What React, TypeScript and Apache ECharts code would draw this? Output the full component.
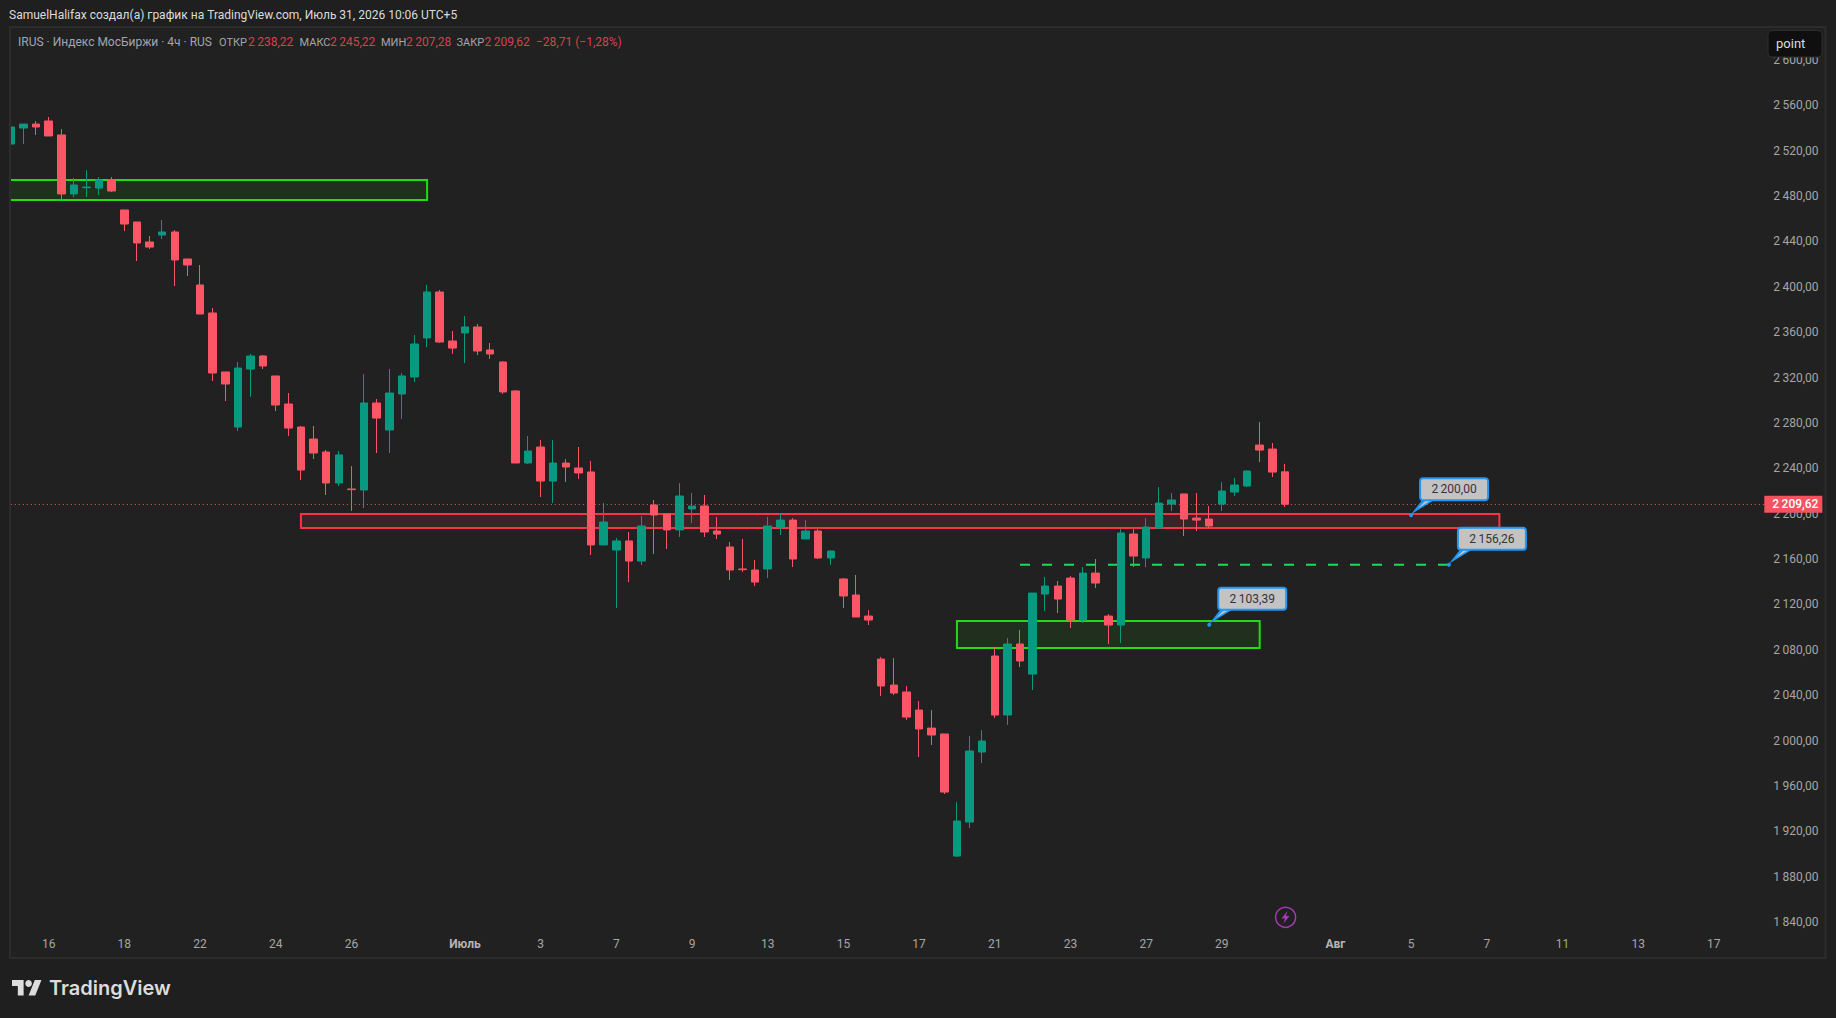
import React, { useEffect, useRef } from "react";
import * as echarts from "echarts";

const opens = [
  2527.1,2541.2,2544.7,2547.4,2535.1,2483.1,2488.6,2488.3,2495.7,2469.0,
  2458.4,2440.8,2446.9,2449.6,2425.8,2402.9,2378.2,2326.2,2277.7,2328.8,
  2340.3,2322.7,2298.0,2277.7,2267.1,2255.7,2228.4,2223.1,2222.2,2298.9,
  2275.1,2306.8,2321.8,2356.2,2396.7,2353.5,2360.6,2365.9,2345.6,2335.0,
  2309.5,2246.0,2260.1,2230.1,2246.0,2241.6,2238.1,2173.8,2169.3,2177.3,
  2159.6,2209.0,2201.1,2187.0,2205.5,2208.1,2186.1,2172.0,2152.6,2151.7,
  2152.6,2189.6,2195.7,2179.0,2186.1,2162.3,2143.8,2129.7,2111.1,2073.2,
  2050.3,2044.2,2028.3,2012.4,2007.2,1899.6,1929.6,1991.3,2075.9,2023.9,
  2086.5,2060.0,2130.5,2137.6,2144.6,2107.6,2149.0,2111.1,2103.2,2183.4,
  2162.3,2188.7,2209.8,2218.7,2197.5,2196.6,2209.8,2220.4,2225.7,2261.8,
  2258.3,2238.22,
];
const closes = [
  2542.1,2544.7,2542.1,2534.2,2483.1,2491.0,2489.2,2495.4,2485.7,2456.6,
  2439.9,2436.3,2449.6,2424.9,2420.5,2377.3,2325.3,2315.6,2329.7,2340.3,
  2331.5,2297.1,2276.8,2239.8,2254.8,2228.4,2253.1,2222.5,2298.9,2285.6,
  2307.7,2322.7,2350.9,2396.7,2352.6,2347.3,2365.9,2344.7,2342.1,2308.6,
  2246.0,2256.6,2230.1,2246.0,2242.5,2237.2,2173.8,2194.0,2177.3,2159.6,
  2190.5,2200.2,2187.0,2216.9,2208.1,2185.2,2183.4,2151.7,2152.0,2141.1,
  2190.5,2195.7,2161.4,2186.1,2162.3,2168.4,2128.8,2110.3,2107.6,2049.5,
  2043.3,2022.1,2011.6,2006.3,1956.0,1930.5,1992.2,2001.0,2023.9,2086.5,
  2071.5,2131.4,2137.6,2126.1,2107.6,2149.0,2140.2,2103.2,2184.3,2164.0,
  2189.6,2210.7,2213.4,2196.6,2195.7,2190.5,2221.3,2226.6,2238.9,2257.4,
  2238.0,2209.62,
];
const highs = [
  2549.2,2544.7,2547.4,2550.9,2540.3,2497.2,2504.2,2498.0,2498.0,2469.0,
  2458.4,2446.0,2460.1,2451.3,2425.8,2420.5,2382.6,2326.2,2335.0,2342.1,
  2341.2,2322.7,2307.7,2278.6,2278.6,2257.5,2256.6,2243.3,2324.4,2302.4,
  2328.8,2325.3,2358.8,2402.9,2398.4,2362.3,2375.6,2368.5,2351.8,2335.9,
  2310.3,2269.8,2266.3,2266.3,2249.5,2260.1,2247.8,2210.8,2179.9,2185.2,
  2199.3,2213.4,2201.1,2228.4,2219.6,2217.8,2198.4,2176.4,2179.0,2160.5,
  2198.4,2201.9,2197.5,2195.7,2187.8,2169.3,2144.6,2147.3,2116.4,2075.0,
  2074.1,2049.5,2036.2,2028.3,2007.2,1947.2,2005.4,2010.7,2083.8,2091.8,
  2098.8,2131.4,2145.5,2142.0,2146.4,2154.3,2161.4,2112.9,2187.8,2187.8,
  2197.5,2224.8,2219.5,2218.7,2219.5,2208.1,2229.2,2232.8,2239.8,2282.1,
  2263.6,2245.22,
];
const lows = [
  2527.1,2527.1,2535.1,2534.2,2476.9,2480.4,2480.4,2482.2,2484.8,2450.4,
  2424.0,2434.6,2443.4,2402.0,2410.8,2377.3,2318.3,2300.6,2274.2,2304.2,
  2328.8,2291.8,2269.8,2231.0,2249.5,2217.8,2225.7,2203.7,2206.3,2254.8,
  2254.8,2284.8,2317.4,2348.2,2351.7,2342.1,2334.1,2341.2,2337.7,2306.8,
  2246.0,2245.1,2216.0,2210.8,2229.3,2231.9,2164.9,2173.8,2118.2,2141.1,
  2156.1,2165.8,2170.2,2180.8,2193.1,2180.8,2179.0,2142.9,2150.0,2137.6,
  2144.6,2182.5,2154.3,2179.0,2161.4,2156.1,2118.2,2110.3,2103.2,2040.6,
  2041.5,2019.5,1986.9,1997.5,1954.3,1898.8,1924.3,1981.6,2021.3,2015.1,
  2066.2,2045.9,2115.6,2113.8,2100.6,2105.0,2135.8,2086.5,2087.3,2154.3,
  2154.3,2187.8,2203.7,2181.6,2186.0,2188.7,2203.7,2216.9,2224.8,2246.9,
  2233.6,2207.28,
];

const xTickSlots = [3, 9, 15, 21, 27, 36, 42, 48, 54, 60, 66, 72, 78, 84, 90, 96, 105, 111, 117, 123, 129, 135];
const xTickLabels = ["16", "18", "22", "24", "26", "Июль", "3", "7", "9", "13", "15", "17", "21", "23", "27", "29", "Авг", "5", "7", "11", "13", "17"];
const monthLabels = ["Июль", "Авг"];
const slotCount = 140;

// price zones: start bar, end bar, top price, bottom price, colour slot
const zoneStart = [-1, 23, 75];
const zoneEnd = [33, 118, 99];
const zoneTop = [2495.4, 2201.1, 2106.7];
const zoneBottom = [2477.8, 2188.7, 2083.0];
const zoneKind = [0, 1, 0];

const targetLine = { from: 80, to: 114, price: 2156.26 };
const calloutBars = [111, 114, 95];
const calloutPrices = [2200.0, 2156.26, 2103.39];

const lastClose = 2209.62;

const headerText = "SamuelHalifax создал(а) график на TradingView.com, Июль 31, 2026 10:06 UTC+5";
const legendTexts = ["IRUS · Индекс МосБиржи · 4ч · RUS", "ОТКР", "2\u2009238,22", "МАКС", "2\u2009245,22", "МИН", "2\u2009207,28", "ЗАКР", "2\u2009209,62", "−28,71 (−1,28%)"];
const legendLefts = [18, 219, 248, 299.5, 330, 381, 406, 456.5, 484.5, 536];

const FONT = "Roboto, sans-serif";
const RED = "#fb5566";
const GREEN = "#089981";
const LABEL = "#a6a6a6";
const OUTER = "#1f1f1f";
const BORDER = "#2c2c2c";

function fmt(v: number) {
  const s = v.toFixed(2).replace(".", ",");
  const [a, b] = s.split(",");
  return (a.length > 3 ? a.slice(0, -3) + "\u2009" + a.slice(-3) : a) + "," + b;
}

function renderZone(params: any, api: any) {
  const p0 = api.coord([api.value(0), api.value(2)]);
  const p1 = api.coord([api.value(1), api.value(3)]);
  const green = zoneKind[params.dataIndex] === 0;
  return {
    type: "rect",
    shape: { x: p0[0], y: p0[1], width: p1[0] - p0[0], height: p1[1] - p0[1] },
    style: {
      fill: green ? "rgba(34,221,17,0.08)" : "rgba(242,54,69,0.12)",
      stroke: green ? "#20dc10" : "#f23645",
      lineWidth: 2,
    },
  };
}

function renderTarget(_params: any, api: any) {
  const p0 = api.coord([api.value(0), api.value(2)]);
  const p1 = api.coord([api.value(1), api.value(2)]);
  return {
    type: "line",
    shape: { x1: p0[0], y1: p0[1], x2: p1[0], y2: p1[1] },
    style: { stroke: "#16dd5c", lineWidth: 2, lineDash: [10, 12], fill: "none" },
  };
}

function renderCallout(_params: any, api: any) {
  const p = api.coord([api.value(0), api.value(1)]);
  const ax = p[0];
  const ay = p[1];
  const bx = ax + 9;
  const by = ay - 37;
  const blue = "#2196f3";
  return {
    type: "group",
    children: [
      { type: "polygon", shape: { points: [[ax, ay - 1], [bx + 2, by + 22], [bx + 14, by + 22]] }, style: { fill: blue } },
      { type: "polygon", shape: { points: [[ax + 7, ay - 7], [bx + 6, by + 22], [bx + 11, by + 22]] }, style: { fill: "#c3c3c3" } },
      { type: "rect", shape: { x: bx, y: by, width: 68, height: 22, r: 3 }, style: { fill: "#c3c3c3", stroke: blue, lineWidth: 2 } },
      { type: "circle", shape: { cx: ax, cy: ay, r: 2 }, style: { fill: blue } },
      { type: "text", style: { text: fmt(api.value(1)), x: bx + 34, y: by + 11, fill: "#33333d", font: `12px ${FONT}`, textAlign: "center", textVerticalAlign: "middle" } },
    ],
  };
}

export default function App() {
  const ref = useRef<HTMLDivElement>(null);

  useEffect(() => {
    document.body.style.margin = "0";
    document.body.style.background = OUTER;
    const chart = echarts.init(ref.current!, null, { renderer: "svg" });
    const categories = Array.from({ length: slotCount }, (_, i) => {
      const k = xTickSlots.indexOf(i);
      return k >= 0 ? xTickLabels[k] : "";
    });
    const isName = (i: number) => i === 0 || i === 1 || i === 3 || i === 5 || i === 7;

    chart.setOption({
      animation: false,
      backgroundColor: OUTER,
      grid: { left: 10.8, width: 1753.5, top: 15.92, height: 953.17, containLabel: false },
      xAxis: {
        type: "category",
        data: categories,
        boundaryGap: false,
        min: 0,
        max: slotCount - 1,
        axisLine: { show: false },
        axisTick: { show: false },
        splitLine: { show: false },
        axisLabel: {
          inside: true,
          margin: 19,
          color: LABEL,
          fontFamily: FONT,
          fontSize: 12,
          interval: (_i: number, v: string) => v !== "",
          formatter: (v: string) => (monthLabels.includes(v) ? `{m|${v}}` : v),
          rich: { m: { color: "#b5b5b5", fontFamily: FONT, fontSize: 12, fontWeight: 700 } },
        },
      },
      yAxis: {
        type: "value",
        position: "right",
        min: 1800,
        max: 2640,
        interval: 40,
        axisLine: { show: false },
        axisTick: { show: false },
        splitLine: { show: false },
        axisLabel: {
          margin: 9,
          showMinLabel: false,
          showMaxLabel: false,
          formatter: (v: number) => `{p|${fmt(v)}}`,
          rich: { p: { color: LABEL, fontFamily: FONT, fontSize: 12, padding: [0, 0, 3, 0] } },
        },
      },
      series: [
        {
          type: "custom",
          z: 1,
          clip: true,
          renderItem: renderZone,
          data: zoneStart.map((s, i) => [s, zoneEnd[i], zoneTop[i], zoneBottom[i]]),
          encode: { x: [0, 1], y: [2, 3] },
          silent: true,
        },
        {
          type: "custom",
          z: 1,
          renderItem: renderTarget,
          data: [[targetLine.from, targetLine.to, targetLine.price]],
          encode: { x: [0, 1], y: 2 },
          silent: true,
        },
        {
          type: "candlestick",
          z: 3,
          barWidth: 8,
          clip: true,
          data: opens.map((o, i) => [o, closes[i], lows[i], highs[i]]),
          itemStyle: { color: GREEN, color0: RED, borderColor: GREEN, borderColor0: RED, borderWidth: 1 },
          markLine: {
            silent: true,
            symbol: "none",
            animation: false,
            lineStyle: { color: "#f7525f", type: [1, 3], width: 1 },
            label: {
              show: true,
              position: "end",
              distance: 0,
              formatter: () => fmt(lastClose),
              color: "#ffffff",
              fontFamily: FONT,
              fontSize: 12,
              fontWeight: 500,
              backgroundColor: "#f7525f",
              padding: [3, 4, 2, 8],
            },
            data: [{ yAxis: lastClose }],
          },
        },
        {
          type: "custom",
          z: 5,
          renderItem: renderCallout,
          data: calloutBars.map((b, i) => [b, calloutPrices[i]]),
          encode: { x: 0, y: 1 },
          silent: true,
        },
      ],
      graphic: [
        { type: "rect", z: -10, silent: true, shape: { x: 10, y: 27, width: 1815.5, height: 931 }, style: { fill: "#212121", stroke: BORDER, lineWidth: 2 } },
        { type: "rect", z: 30, silent: true, shape: { x: 0, y: 27, width: 9, height: 931 }, style: { fill: OUTER } },
        { type: "rect", z: 31, silent: true, shape: { x: 9, y: 26, width: 2, height: 933 }, style: { fill: BORDER } },
        { type: "text", z: 50, style: { text: headerText, x: 9, y: 15, fill: "#dcdcdc", font: `12px ${FONT}`, textVerticalAlign: "middle" } },
        ...legendTexts.map((t, i) => ({
          type: "text",
          z: 50,
          style: {
            text: t,
            x: legendLefts[i],
            y: 42,
            fill: isName(i) ? "#a3a6ad" : "#d6414f",
            font: `${isName(i) && i > 0 ? 11 : 12}px ${FONT}`,
            textVerticalAlign: "middle",
          },
        })),
        { type: "rect", z: 60, shape: { x: 1768, y: 30.5, width: 54, height: 26.5, r: 4 }, style: { fill: "#0f0f0f", stroke: "#2e2e2e", lineWidth: 1 } },
        { type: "text", z: 61, style: { text: "point", x: 1776, y: 43.5, fill: "#dcdcdc", font: `13px ${FONT}`, textVerticalAlign: "middle" } },
        { type: "circle", z: 40, shape: { cx: 1285.6, cy: 917.3, r: 10 }, style: { fill: "none", stroke: "#a33bb3", lineWidth: 1.5 } },
        { type: "polygon", z: 40, shape: { points: [[1287.5, 911], [1281.5, 918.5], [1285, 918.5], [1283.5, 923.5], [1289.5, 916], [1286, 916]] }, style: { fill: "#a33bb3" } },
        {
          type: "group",
          x: 12,
          y: 976.7,
          scaleX: 0.83,
          scaleY: 0.85,
          children: [
            { type: "polygon", shape: { points: [[0, 4], [14, 4], [14, 22], [7, 22], [7, 11], [0, 11]] }, style: { fill: "#dcdcdc" } },
            { type: "polygon", shape: { points: [[20, 22], [27.5, 4], [35.5, 4], [28, 22]] }, style: { fill: "#dcdcdc" } },
            { type: "circle", shape: { cx: 20, cy: 8, r: 4 }, style: { fill: "#dcdcdc" } },
          ],
        },
        { type: "text", style: { text: "TradingView", x: 49, y: 988, fill: "#dcdcdc", font: `600 20px Inter, ${FONT}`, textVerticalAlign: "middle" } },
      ],
    });
    return () => chart.dispose();
  }, []);

  return <div ref={ref} style={{ position: "fixed", left: 0, top: 0, width: 1836, height: 1018 }} />;
}
